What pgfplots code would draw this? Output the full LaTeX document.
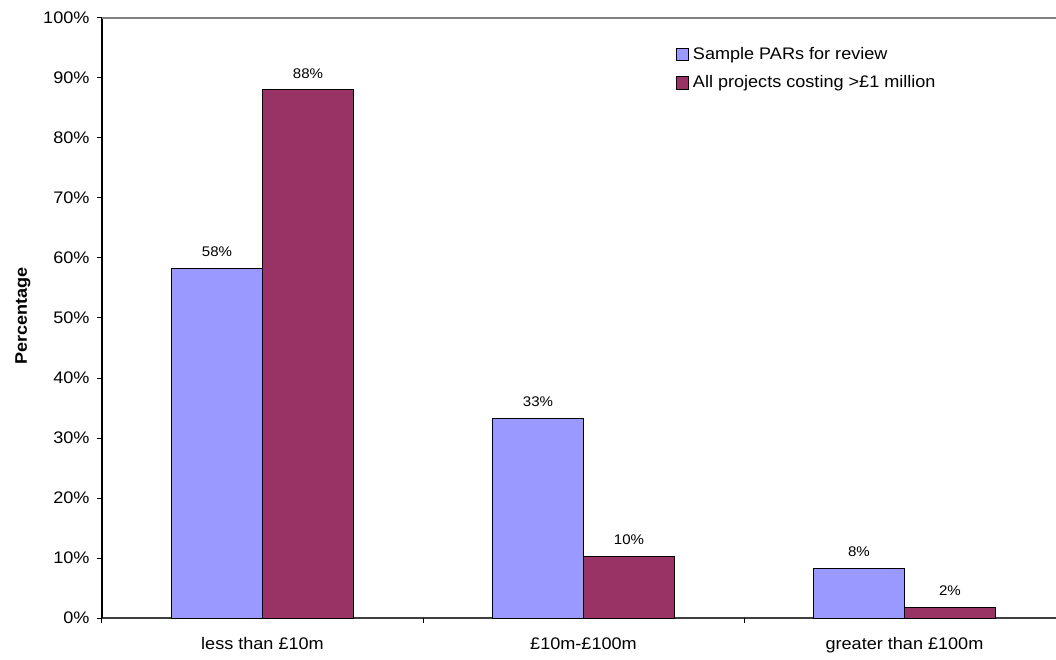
\documentclass[border=0pt]{standalone}
\usepackage{pgfplots}
\pgfplotsset{compat=1.18}
\usepackage{fontspec}
\setmainfont[FakeStretch=1.08]{Liberation Sans}
\definecolor{sblue}{HTML}{9999FF}
\definecolor{sred}{HTML}{993366}
\begin{document}
\begin{tikzpicture}
\begin{axis}[
  name=ax,
  scale only axis,
  width=954bp, height=600bp,
  ymin=0, ymax=100,
  xmin=-0.5, xmax=2.472,
  ytick={0,10,...,100},
  yticklabel={\pgfmathprintnumber{\tick}\%},
  /pgf/number format/assume math mode=true,
  tick label style={font=\fontsize{16.8}{19}\selectfont},
  yticklabel style={xshift=-4bp},
  axis x line*=bottom, axis y line*=left,
  x axis line style={draw=black!75, line width=1.2pt, -},
  y axis line style={draw=black, line width=1.2pt, -},
  tick style={black, line width=1pt},
  ytick align=outside, major tick length=5bp,
  xtick={0,1,2},
  xticklabels={less than £10m, £10m-£100m, greater than £100m},
  xtick style={draw=none},
  extra x ticks={-0.5,0.5,1.5},
  extra x tick labels={},
  extra x tick style={xtick style={draw=black, line width=1pt}, tick align=outside, major tick length=5bp},
  xticklabel style={yshift=-11bp},
  ylabel={\bfseries Percentage},
  ylabel style={at={(axis description cs:-0.083,0.503)}, anchor=center, font=\fontsize{16.8}{19}\selectfont},
  ybar=0pt, bar width=91bp,
  nodes near coords={\pgfmathprintnumber[fixed,precision=0]{\pgfplotspointmeta}\%},
  every node near coord/.append style={font=\fontsize{14}{16}\selectfont, black, yshift=8bp},
  legend style={at={(axis description cs:0.601,0.955)}, anchor=north west, draw=none, fill=none,
    font=\fontsize{16.8}{19}\selectfont, row sep=11bp, inner sep=0pt,
    nodes={inner xsep=4bp}},
  legend cell align=left,
  legend image code/.code={\draw[#1, draw=black, line width=0.9pt] (0bp,-6.5bp) rectangle (12.5bp,6bp);},
]
\addplot[fill=sblue, draw=black, line width=1pt] coordinates {(0,58.33) (1,33.33) (2,8.33)};
\addplot[fill=sred, draw=black, line width=1pt] coordinates {(0,88.0) (1,10.2) (2,1.8)};
\legend{Sample PARs for review, All projects costing >£1 million}
\draw[gray, line width=1.2pt] (rel axis cs:0,1) -- (rel axis cs:1,1);
\end{axis}
\pgfresetboundingbox
\path[use as bounding box] (ax.south west) ++(-102bp,-42bp) rectangle ([yshift=18bp]ax.north east);
\end{tikzpicture}
\end{document}
